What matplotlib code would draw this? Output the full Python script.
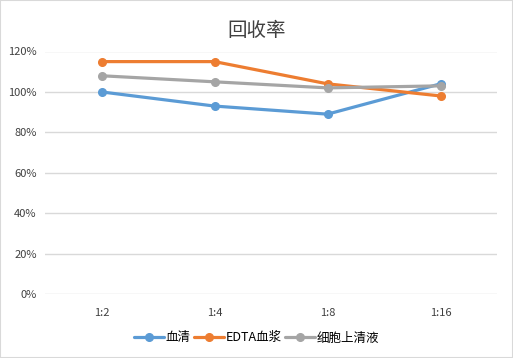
import matplotlib
matplotlib.use("Agg")
import matplotlib.pyplot as plt
from matplotlib.ticker import FuncFormatter
from matplotlib.patches import Rectangle

plt.rcParams['font.family'] = ['Noto Sans CJK SC', 'DejaVu Sans']

categories = ["1:2", "1:4", "1:8", "1:16"]
serum = [100, 93, 89, 104]
edta = [115, 115, 104, 98]
supernatant = [108, 105, 102, 103]
series_names = ["血清", "EDTA血浆", "细胞上清液"]
colors = ["#5B9BD5", "#ED7D31", "#A5A5A5"]
yticks = [0, 20, 40, 60, 80, 100, 120]

fig = plt.figure(figsize=(5.13, 3.58), dpi=100)
ax = fig.add_axes([45/513, 1-294/358, (497-45)/513, (294-51.5)/358])
x = list(range(len(categories)))
for vals, name, c in zip([serum, edta, supernatant], series_names, colors):
    ax.plot(x, vals, color=c, lw=2.3, marker='o', ms=5.5, label=name, solid_capstyle='round')

ax.set_xlim(-0.5, len(categories)-0.5)
ax.set_ylim(0, 120)
ax.set_yticks(yticks)
ax.yaxis.set_major_formatter(FuncFormatter(lambda v, p: f"{int(v)}%"))
ax.set_xticks(x)
ax.set_xticklabels(categories)
ax.grid(axis='y', color='#D9D9D9', lw=1)
ax.set_axisbelow(True)
for s in ax.spines.values():
    s.set_visible(False)
ax.tick_params(axis='both', length=0, labelsize=8, colors='#404040')
ax.tick_params(axis='x', pad=10)
ax.tick_params(axis='y', pad=6)

fig.text(0.5, 1-30/358, "回收率", ha='center', va='center', fontsize=14, color='#404040',
         fontweight='light')
leg = fig.legend(loc='center', bbox_to_anchor=(0.5, 1-338/358), ncol=3, frameon=False,
                 fontsize=9, handlelength=2.4, handletextpad=0.1, columnspacing=0.3)
fig.patches.append(Rectangle((0, 0), 1, 1, transform=fig.transFigure, fill=False,
                             edgecolor='#D9D9D9', lw=1.5))
fig.savefig("out.png", dpi=100)
